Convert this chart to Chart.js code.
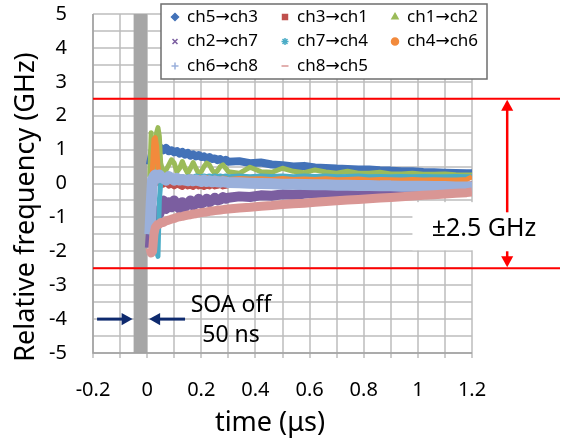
<!DOCTYPE html>
<html>
<head>
<meta charset="utf-8">
<script src="https://cdn.jsdelivr.net/npm/chart.js@4.4.0/dist/chart.umd.min.js"></script>
<style>
  body { margin: 0; background: #fff; }
</style>
</head>
<body>
<canvas id="myChart" width="565" height="442"></canvas>
<script>
// time axis, in microseconds
const timeUs = [
  0.010, 0.015, 0.020, 0.025, 0.030, 0.035, 0.040, 0.045, 0.050,
  0.06, 0.07, 0.08, 0.09, 0.10, 0.11, 0.12, 0.13, 0.14, 0.15, 0.16, 0.17, 0.18, 0.19, 0.20,
  0.21, 0.22, 0.23, 0.24, 0.25, 0.26, 0.27, 0.28, 0.29, 0.30,
  0.34, 0.38, 0.42, 0.46, 0.50, 0.54, 0.58, 0.62, 0.66, 0.70, 0.74, 0.78,
  0.82, 0.86, 0.90, 0.94, 0.98, 1.02, 1.06, 1.10, 1.14, 1.18, 1.20
];

// relative frequency, GHz (one array per channel pair)
const ch5to3 = [
  0.55, 0.75, 0.95, 1.0, 1.05, 1.0, 0.95, 1.0, 1.05,
  0.98, 1.05, 0.95, 0.98, 0.92, 0.96, 0.88, 0.93, 0.85, 0.9, 0.82, 0.86, 0.8, 0.84, 0.78,
  0.8, 0.74, 0.78, 0.72, 0.74, 0.69, 0.72, 0.66, 0.7, 0.64,
  0.66, 0.6, 0.62, 0.56, 0.54, 0.5, 0.52, 0.47, 0.46, 0.44, 0.43, 0.41,
  0.41, 0.39, 0.38, 0.36, 0.36, 0.34, 0.33, 0.32, 0.31, 0.3, 0.3
];
const ch3to1 = [
  -1.4, -0.6, 0.0, 0.1, 0.05, 0.0, 0.05, 0.0, -0.05,
  -0.05, 0.0, -0.08, -0.05, -0.1, -0.05, -0.08, -0.12, -0.06, -0.1, -0.08, -0.12, -0.06, -0.1, -0.08,
  -0.12, -0.08, -0.1, -0.06, -0.1, -0.08, -0.06, -0.1, -0.08, -0.06,
  -0.06, -0.05, -0.07, -0.05, -0.06, -0.04, -0.05, -0.04, -0.05, -0.03, -0.04, -0.03,
  -0.04, -0.03, -0.02, -0.03, -0.02, -0.02, -0.03, -0.02, -0.01, -0.02, -0.01
];
const ch1to2 = [
  0.2, 1.5, 0.3, 0.4, 0.9, 1.5, 1.65, 1.4, 0.6,
  0.3, 0.4, 0.55, 0.7, 0.6, 0.35, 0.45, 0.65, 0.45, 0.3, 0.45, 0.62, 0.45, 0.3, 0.35,
  0.5, 0.6, 0.55, 0.4, 0.3, 0.38, 0.5, 0.55, 0.45, 0.35,
  0.3, 0.48, 0.35, 0.33, 0.45, 0.36, 0.32, 0.4, 0.34, 0.3, 0.36, 0.3,
  0.3, 0.33, 0.28, 0.28, 0.3, 0.27, 0.27, 0.28, 0.26, 0.25, 0.25
];
const ch2to7 = [
  -1.9, -1.3, -1.0, -0.9, -0.95, -0.85, -0.8, -0.9, -0.75,
  -0.5, -0.75, -0.55, -0.7, -0.5, -0.65, -0.75, -0.55, -0.7, -0.6, -0.5, -0.65, -0.6, -0.45, -0.6,
  -0.55, -0.45, -0.55, -0.5, -0.42, -0.5, -0.48, -0.4, -0.45, -0.42,
  -0.38, -0.4, -0.35, -0.36, -0.32, -0.33, -0.3, -0.28, -0.27, -0.25, -0.24, -0.22,
  -0.21, -0.2, -0.19, -0.18, -0.17, -0.16, -0.15, -0.14, -0.13, -0.12, -0.12
];
const ch7to4 = [
  -1.2, -1.5, -1.6, -1.7, -1.8, -2.0, -2.15, -0.5, 0.0,
  0.1, 0.15, 0.2, 0.1, 0.15, 0.2, 0.15, 0.2, 0.15, 0.2, 0.2, 0.18, 0.22, 0.2, 0.2,
  0.22, 0.2, 0.22, 0.2, 0.22, 0.2, 0.22, 0.2, 0.22, 0.2,
  0.22, 0.2, 0.22, 0.21, 0.22, 0.2, 0.22, 0.21, 0.22, 0.2, 0.21, 0.22,
  0.2, 0.21, 0.2, 0.21, 0.2, 0.21, 0.2, 0.2, 0.21, 0.2, 0.2
];
const ch4to6 = [
  -0.5, -0.8, 0.5, 1.3, 1.35, 1.1, 0.5, 0.2, 0.15,
  0.2, 0.25, 0.15, 0.1, 0.2, 0.15, 0.1, 0.2, 0.15, 0.1, 0.2, 0.15, 0.12, 0.18, 0.15,
  0.12, 0.18, 0.14, 0.12, 0.16, 0.14, 0.12, 0.16, 0.14, 0.12,
  0.15, 0.13, 0.14, 0.12, 0.15, 0.12, 0.13, 0.12, 0.14, 0.11, 0.12, 0.13,
  0.1, 0.12, 0.11, 0.1, 0.12, 0.1, 0.11, 0.1, 0.1, 0.12, 0.2
];
const ch6to8 = [
  -1.5, -0.6, 0.1, 0.2, 0.25, 0.15, 0.2, 0.25, 0.2,
  0.15, 0.1, 0.2, 0.15, 0.1, 0.15, 0.1, 0.12, 0.1, 0.08, 0.12, 0.08, 0.1, 0.08, 0.06,
  0.1, 0.06, 0.08, 0.05, 0.07, 0.05, 0.04, 0.06, 0.04, 0.03,
  0.02, 0.01, 0.0, -0.01, -0.02, -0.02, -0.03, -0.04, -0.04, -0.05, -0.05, -0.06,
  -0.06, -0.07, -0.07, -0.08, -0.08, -0.08, -0.09, -0.09, -0.1, -0.1, -0.1
];
const ch8to5 = [
  -1.9, -2.05, -2.0, -1.5, -1.3, -1.25, -1.2, -1.2, -1.15,
  -1.15, -1.1, -1.08, -1.05, -1.03, -1.0, -0.98, -0.97, -0.95, -0.93, -0.92, -0.9, -0.89, -0.87, -0.86,
  -0.85, -0.84, -0.82, -0.81, -0.8, -0.79, -0.78, -0.77, -0.76, -0.75,
  -0.72, -0.7, -0.67, -0.65, -0.62, -0.6, -0.58, -0.55, -0.53, -0.51, -0.49, -0.47,
  -0.45, -0.43, -0.41, -0.39, -0.37, -0.35, -0.33, -0.31, -0.29, -0.27, -0.25
];

const seriesLabels = ["ch5\u2192ch3", "ch3\u2192ch1", "ch1\u2192ch2", "ch2\u2192ch7",
                      "ch7\u2192ch4", "ch4\u2192ch6", "ch6\u2192ch8", "ch8\u2192ch5"];
const seriesValues = [ch5to3, ch3to1, ch1to2, ch2to7, ch7to4, ch4to6, ch6to8, ch8to5];
const seriesColors = ["#4372B8", "#C0504D", "#9BBB59", "#7B5EA0",
                      "#4BACC6", "#F28A3C", "#9AB0DB", "#D99694"];
const seriesWidths = [8, 5, 5, 10, 5, 5, 11, 9];
const seriesMarkers = ["rectRot", "rect", "triangle", "crossRot", "star", "circle", "cross", "line"];

const xTicks = [-0.2, 0, 0.2, 0.4, 0.6, 0.8, 1, 1.2];
const yTicks = [-5, -4, -3, -2, -1, 0, 1, 2, 3, 4, 5];
const xGridStep = 0.1, yGridStep = 0.5;
const soaOffStart = -0.05, soaOffEnd = 0;   // 50 ns
const limitGHz = 2.5;

const FONT = "'Noto Sans', 'DejaVu Sans', sans-serif";
Chart.defaults.font.family = FONT;
Chart.defaults.color = "#000";
const GRID = "#BDBDBD";

const datasets = seriesValues.map((vals, i) => ({
  label: seriesLabels[i],
  data: vals.map((v, k) => ({ x: timeUs[k], y: v })),
  borderColor: seriesColors[i],
  backgroundColor: seriesColors[i],
  borderWidth: seriesWidths[i],
  borderJoinStyle: "round",
  pointRadius: 0,
  pointStyle: seriesMarkers[i],
  order: seriesValues.length - i   // later series on top, like the original
}));

function arrow(ctx, x1, y1, x2, y2, head, color, width) {
  const a = Math.atan2(y2 - y1, x2 - x1);
  const c = Math.cos(a), s = Math.sin(a);
  ctx.strokeStyle = color;
  ctx.fillStyle = color;
  ctx.lineWidth = width;
  ctx.beginPath();
  ctx.moveTo(x1, y1);
  ctx.lineTo(x2 - c * head * 0.7, y2 - s * head * 0.7);
  ctx.stroke();
  ctx.beginPath();
  ctx.moveTo(x2, y2);
  ctx.lineTo(x2 - head * c + head * 0.55 * s, y2 - head * s - head * 0.55 * c);
  ctx.lineTo(x2 - head * c - head * 0.55 * s, y2 - head * s + head * 0.55 * c);
  ctx.closePath();
  ctx.fill();
}

const extras = {
  id: "extras",
  beforeDatasetsDraw(chart) {
    const { ctx, chartArea: a, scales: { x, y } } = chart;
    ctx.save();
    // grid lines every 0.1 us and every 0.5 GHz
    ctx.strokeStyle = GRID;
    ctx.lineWidth = 1.5;
    for (let k = 0; k <= Math.round((x.max - x.min) / xGridStep); k++) {
      const px = Math.round(x.getPixelForValue(x.min + k * xGridStep));
      ctx.beginPath();
      ctx.moveTo(px, a.top); ctx.lineTo(px, a.bottom + 5);
      ctx.stroke();
    }
    for (let k = 0; k <= Math.round((y.max - y.min) / yGridStep); k++) {
      const py = Math.round(y.getPixelForValue(y.min + k * yGridStep));
      ctx.beginPath();
      ctx.moveTo(a.left, py); ctx.lineTo(a.right, py);
      ctx.stroke();
    }
    // SOA off window
    const x0 = x.getPixelForValue(soaOffStart), x1 = x.getPixelForValue(soaOffEnd);
    ctx.fillStyle = "#A6A6A6";
    ctx.fillRect(x0, a.top, x1 - x0, a.bottom - a.top);
    // white box behind the +-2.5 GHz label
    const bt = y.getPixelForValue(-0.55), bb = y.getPixelForValue(-1.97);
    ctx.fillStyle = "#fff";
    ctx.fillRect(x.getPixelForValue(0.98), bt, 140, bb - bt);
    // axis lines
    ctx.strokeStyle = "#A0A0A0";
    ctx.beginPath();
    ctx.moveTo(a.left, a.top); ctx.lineTo(a.left, a.bottom); ctx.lineTo(a.right, a.bottom);
    ctx.stroke();
    ctx.restore();
  },
  afterDatasetsDraw(chart) {
    const { ctx, chartArea: a, scales: { x, y } } = chart;
    ctx.save();
    // +-2.5 GHz limits
    const yTop = y.getPixelForValue(limitGHz), yBot = y.getPixelForValue(-limitGHz);
    ctx.strokeStyle = "#FF0000";
    ctx.lineWidth = 2;
    ctx.beginPath();
    ctx.moveTo(a.left, yTop); ctx.lineTo(560, yTop);
    ctx.moveTo(a.left, yBot); ctx.lineTo(560, yBot);
    ctx.stroke();
    const ax = x.getPixelForValue(1.33);
    arrow(ctx, ax, y.getPixelForValue(-0.85), ax, yTop + 1, 11, "#FF0000", 2.5);
    arrow(ctx, ax, y.getPixelForValue(-2.0), ax, yBot - 1, 11, "#FF0000", 2.5);
    ctx.fillStyle = "#000";
    ctx.font = "25px " + FONT;
    ctx.textAlign = "center";
    ctx.textBaseline = "middle";
    ctx.fillText("\u00B12.5 GHz", 484, y.getPixelForValue(-1.34));

    // SOA off arrows and label
    const ya = y.getPixelForValue(-4);
    arrow(ctx, x.getPixelForValue(-0.185), ya, x.getPixelForValue(soaOffStart) - 1, ya, 11, "#0E2A6E", 3);
    arrow(ctx, x.getPixelForValue(0.14), ya, x.getPixelForValue(soaOffEnd) + 2, ya, 11, "#0E2A6E", 3);
    ctx.fillStyle = "#000";
    ctx.font = "23px " + FONT;
    ctx.fillText("SOA off", 231, y.getPixelForValue(-3.6));
    ctx.fillText("50 ns", 231, y.getPixelForValue(-4.47));

    // axis titles
    ctx.font = "27px " + FONT;
    ctx.fillText("time (\u03BCs)", 270, 423);
    ctx.save();
    ctx.translate(26, 207);
    ctx.rotate(-Math.PI / 2);
    ctx.fillText("Relative frequency (GHz)", 0, 0);
    ctx.restore();

    // legend box, three columns
    ctx.fillStyle = "#fff";
    ctx.fillRect(161, 4, 326, 75);
    ctx.strokeStyle = "#6E6E6E";
    ctx.lineWidth = 1.5;
    ctx.strokeRect(161, 4, 326, 75);
    ctx.font = "17px " + FONT;
    ctx.textAlign = "left";
    chart.data.datasets.forEach((ds, i) => {
      const col = i % 3, row = Math.floor(i / 3);
      const mx = 175 + col * 110, my = 17 + row * 24.5;
      ctx.fillStyle = ds.borderColor;
      ctx.strokeStyle = ds.borderColor;
      Chart.helpers.drawPoint(ctx, { pointStyle: ds.pointStyle, radius: 3.5, borderWidth: 1.5, rotation: 0 }, mx, my);
      ctx.fillStyle = "#000";
      ctx.fillText(ds.label, mx + 12, my);
    });
    ctx.restore();
  }
};

function noEdgePadding(s) {
  s.paddingTop = 0; s.paddingBottom = 0; s.paddingLeft = 0; s.paddingRight = 0;
}

const ctx = document.getElementById("myChart").getContext("2d");
const chart = new Chart(ctx, {
  type: "line",
  data: { datasets: datasets },
  plugins: [extras],
  options: {
    responsive: false,
    animation: false,
    layout: { padding: { top: 14, right: 93, left: 0, bottom: 0 } },
    plugins: { legend: { display: false }, tooltip: { enabled: false } },
    scales: {
      x: {
        type: "linear",
        min: -0.2,
        max: 1.2,
        afterFit: s => { s.height = 89; noEdgePadding(s); },
        ticks: {
          stepSize: 0.1,
          autoSkip: false,
          maxRotation: 0,
          padding: 20,
          font: { size: 20 },
          callback: v => {
            const r = Math.round(v * 10) / 10;
            return xTicks.some(t => Math.abs(t - r) < 1e-9) ? String(r) : "";
          }
        },
        grid: { display: false, tickLength: 5 },
        border: { display: false }
      },
      y: {
        min: -5,
        max: 5,
        afterFit: s => { s.width = 93; noEdgePadding(s); },
        ticks: {
          stepSize: 0.5,
          padding: 26,
          font: { size: 20 },
          callback: v => (yTicks.includes(v) ? String(v) : "")
        },
        grid: { display: false, drawTicks: false },
        border: { display: false }
      }
    }
  }
});
</script>
</body>
</html>
